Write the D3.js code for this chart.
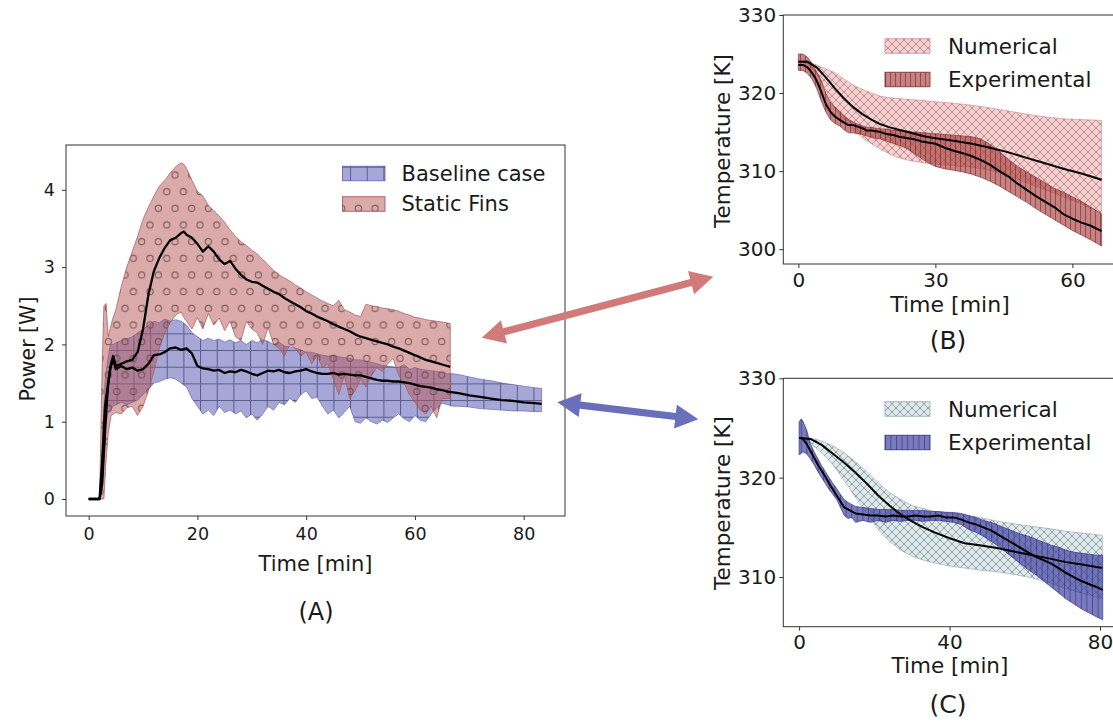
<!DOCTYPE html>
<html><head><meta charset="utf-8">
<script src="https://cdn.jsdelivr.net/npm/d3@7"></script>
<style>
body{margin:0;background:#fff;}
svg{display:block;}
text{font-family:"DejaVu Sans",sans-serif;fill:#1a1a1a;}
</style>
</head><body>
<svg id="c" width="1113" height="723"></svg>
<script>
// ---------- Panel A: power vs time ----------
const aTicksX = [0, 20, 40, 60, 80];
const aTicksY = [0, 1, 2, 3, 4];
const tBase = [0, 2.0, 2.5, 3.0, 3.5, 4.0, 4.5, 5, 6, 7, 8, 9, 10, 11, 12, 13, 14, 15, 16, 17, 18, 19, 20, 21, 22, 23, 24, 25, 26, 27, 28, 29, 30, 31, 32, 33, 34, 35, 36, 37, 38, 39, 40, 41, 42, 43, 44, 45, 46, 47, 48, 49, 50, 51, 52, 53, 54, 55, 56, 57, 58, 59, 60, 61, 62, 63, 64, 65, 66, 67, 68, 70, 72, 74, 76, 78, 80, 82, 83.3];
const lowBase = [0, 0, 0.3, 0.9, 1.1, 1.15, 1.2, 1.22, 1.25, 1.22, 1.25, 1.28, 1.35, 1.42, 1.5, 1.52, 1.55, 1.57, 1.55, 1.5, 1.45, 1.3, 1.2, 1.1, 1.15, 1.08, 1.2, 1.12, 1.15, 1.1, 1.14, 1.05, 1.1, 1.02, 1.1, 1.2, 1.15, 1.25, 1.22, 1.3, 1.25, 1.35, 1.4, 1.3, 1.32, 1.2, 1.1, 1.15, 1.05, 1.12, 1.2, 1.0, 0.98, 1.05, 1.0, 0.97, 1.02, 0.99, 1.05, 1.1, 1.04, 1.0, 1.08, 1.02, 1.0, 1.1, 1.18, 1.24, 1.22, 1.2, 1.2, 1.19, 1.17, 1.16, 1.15, 1.14, 1.14, 1.13, 1.13];
const meanBase = [0, 0, 0.5, 1.2, 1.45, 1.7, 1.8, 1.68, 1.72, 1.68, 1.7, 1.66, 1.68, 1.75, 1.86, 1.87, 1.9, 1.95, 1.96, 1.93, 1.95, 1.88, 1.72, 1.69, 1.68, 1.66, 1.67, 1.63, 1.65, 1.64, 1.67, 1.65, 1.62, 1.6, 1.63, 1.66, 1.65, 1.67, 1.64, 1.63, 1.65, 1.66, 1.68, 1.65, 1.63, 1.62, 1.62, 1.63, 1.61, 1.62, 1.61, 1.6, 1.6, 1.58, 1.56, 1.54, 1.53, 1.53, 1.52, 1.52, 1.51, 1.5, 1.48, 1.46, 1.45, 1.44, 1.42, 1.41, 1.39, 1.38, 1.37, 1.34, 1.32, 1.30, 1.28, 1.27, 1.25, 1.24, 1.23];
const upBase = [0, 0, 0.7, 1.5, 1.8, 2.0, 2.0, 2.02, 2.05, 2.07, 2.1, 2.15, 2.2, 2.25, 2.3, 2.28, 2.33, 2.3, 2.32, 2.3, 2.25, 2.15, 2.1, 2.05, 2.08, 2.05, 2.07, 2.03, 2.06, 2.02, 2.05, 2.0, 2.05, 2.02, 2.06, 2.04, 2.0, 2.03, 1.98, 1.97, 1.95, 1.93, 1.9, 1.9, 1.88, 1.86, 1.85, 1.86, 1.84, 1.83, 1.82, 1.8, 1.8, 1.78, 1.77, 1.75, 1.73, 1.72, 1.71, 1.7, 1.74, 1.68, 1.7, 1.68, 1.67, 1.66, 1.65, 1.64, 1.62, 1.62, 1.61, 1.58, 1.55, 1.53, 1.5, 1.48, 1.46, 1.44, 1.43];

const tFins = [0, 2.0, 2.5, 2.8, 3.2, 3.6, 4.1, 4.5, 5, 6, 7, 8, 9, 10, 11, 12, 13, 14, 15, 16, 17, 17.5, 18, 19, 20, 21, 22, 23, 24, 25, 26, 27, 28, 29, 30, 31, 32, 33, 34, 35, 36, 37, 38, 39, 40, 41, 42, 43, 44, 45, 46, 47, 48, 49, 50, 51, 52, 53, 54, 55, 56, 57, 58, 59, 60, 61, 62, 63, 64, 65, 66.5];
const lowFins = [0, 0, 0, 0, 0.5, 0.85, 1.07, 1.1, 1.12, 1.1, 1.18, 1.2, 1.08, 1.2, 1.4, 1.65, 1.95, 2.15, 2.28, 2.38, 2.42, 2.35, 2.3, 2.2, 2.35, 2.2, 2.4, 2.25, 2.34, 2.18, 2.3, 2.1, 2.05, 2.3, 2.2, 2.15, 2.0, 2.22, 2.0, 1.95, 1.85, 2.0, 1.95, 1.85, 1.9, 1.75, 1.85, 1.7, 1.75, 1.55, 1.35, 1.6, 1.3, 1.4, 1.55, 1.45, 1.6, 1.7, 1.65, 1.75, 1.82, 1.6, 1.5, 1.35, 1.25, 1.15, 1.1, 1.2, 1.05, 1.3, 1.3];
const meanFins = [0, 0, 0.2, 0.6, 1.1, 1.5, 1.75, 1.85, 1.72, 1.75, 1.78, 1.8, 1.9, 2.2, 2.65, 2.95, 3.12, 3.25, 3.35, 3.38, 3.44, 3.46, 3.42, 3.38, 3.3, 3.2, 3.27, 3.2, 3.1, 3.04, 3.08, 2.98, 2.9, 2.84, 2.81, 2.8, 2.76, 2.72, 2.68, 2.65, 2.6, 2.56, 2.52, 2.48, 2.43, 2.4, 2.36, 2.33, 2.3, 2.26, 2.23, 2.2, 2.17, 2.13, 2.1, 2.08, 2.06, 2.04, 2.02, 2.0, 1.97, 1.95, 1.92, 1.89, 1.86, 1.83, 1.8, 1.78, 1.76, 1.74, 1.71];
const upFins = [0, 0, 1.8, 2.5, 2.53, 2.1, 2.25, 2.35, 2.45, 2.75, 3.0, 3.2, 3.4, 3.62, 3.78, 3.92, 4.05, 4.12, 4.22, 4.3, 4.35, 4.33, 4.28, 4.12, 3.98, 3.92, 3.8, 3.73, 3.66, 3.58, 3.48, 3.4, 3.33, 3.28, 3.22, 3.17, 3.1, 3.03, 2.96, 2.9, 2.86, 2.82, 2.77, 2.73, 2.68, 2.64, 2.6, 2.56, 2.53, 2.5, 2.57, 2.45, 2.42, 2.38, 2.36, 2.52, 2.5, 2.49, 2.47, 2.46, 2.45, 2.43, 2.4, 2.38, 2.35, 2.34, 2.32, 2.31, 2.3, 2.29, 2.27];

// ---------- Panel B: temperature, static fins ----------
const bTicksX = [0, 30, 60];
const bTicksY = [300, 310, 320, 330];
const tBNum = [0, 2, 4, 6, 8, 10, 12, 14, 16, 18, 20, 22, 24, 26, 28, 30, 34, 38, 42, 46, 50, 54, 58, 62, 66.4];
const lowBNum = [324.0, 323.8, 322.5, 320.4, 318.0, 316.4, 315.3, 314.3, 313.5, 312.8, 312.2, 311.7, 311.4, 311.2, 311.0, 310.9, 310.7, 310.5, 310.1, 309.4, 308.5, 307.6, 306.7, 305.8, 304.6];
const meanBNum = [324.0, 324.0, 323.3, 322.0, 320.6, 319.3, 318.2, 317.3, 316.6, 316.0, 315.6, 315.3, 315.0, 314.7, 314.4, 314.2, 313.9, 313.5, 313.0, 312.4, 311.7, 311.0, 310.3, 309.7, 308.9];
const upBNum = [324.2, 324.1, 323.6, 323.1, 322.6, 321.8, 321.0, 320.5, 320.0, 319.6, 319.4, 319.3, 319.2, 319.1, 319.0, 318.9, 318.7, 318.45, 318.1, 317.7, 317.3, 316.95, 316.7, 316.6, 316.5];
const tBExp = [0, 1, 2, 3, 4, 5, 6, 7, 8, 9, 10, 11, 12, 13, 14, 15, 16, 17, 18, 19, 20, 21, 22, 23, 24, 25, 26, 27, 28, 29, 30, 32, 34, 36, 38, 40, 42, 44, 46, 48, 50, 52, 54, 56, 58, 60, 62, 64, 66.4];
const lowBExp = [322.9, 322.9, 322.5, 321.8, 320.6, 319.0, 317.6, 316.6, 316.1, 315.8, 315.3, 314.9, 314.9, 314.8, 314.7, 314.5, 314.3, 314.2, 314.1, 313.9, 313.7, 313.5, 313.3, 313.1, 312.8, 312.4, 312.0, 311.6, 311.2, 310.9, 310.6, 310.3, 310.1, 309.9, 309.6, 309.2, 308.7, 308.1, 307.4, 306.7, 306.0, 305.2, 304.5, 303.8, 303.1, 302.4, 301.8, 301.2, 300.4];
const meanBExp = [323.6, 323.6, 323.3, 322.6, 321.6, 320.2, 318.6, 317.6, 317.0, 316.6, 316.2, 315.9, 315.9, 315.7, 315.5, 315.2, 315.2, 315.1, 315.0, 314.8, 314.7, 314.6, 314.4, 314.3, 314.2, 314.1, 314.0, 313.8, 313.7, 313.6, 313.5, 313.0, 312.6, 312.3, 311.9, 311.4, 310.8, 310.0, 309.3, 308.4, 307.6, 306.8, 306.1, 305.4, 304.5, 303.9, 303.4, 303.0, 302.3];
const upBExp = [325.0, 325.0, 324.6, 323.8, 322.7, 321.6, 320.0, 318.9, 318.2, 317.7, 317.1, 316.6, 316.3, 316.0, 315.8, 315.6, 315.6, 315.5, 315.4, 315.4, 315.3, 315.2, 315.2, 315.1, 315.1, 315.0, 315.0, 314.9, 314.9, 314.8, 314.8, 314.7, 314.6, 314.5, 314.4, 314.1, 313.4, 312.5, 311.5, 310.6, 309.9, 309.2, 308.5, 307.8, 307.3, 306.7, 306.1, 305.4, 304.5];

// ---------- Panel C: temperature, baseline ----------
const cTicksX = [0, 40, 80];
const cTicksY = [310, 320, 330];
const tCNum = [0, 3, 6, 9, 12, 15, 18, 21, 24, 27, 30, 33, 36, 40, 44, 48, 53, 58, 62, 66, 71, 76, 80.6];
const lowCNum = [324.0, 323.5, 322.5, 321.3, 319.7, 318.0, 316.4, 314.8, 313.6, 312.7, 312.1, 311.7, 311.4, 311.1, 310.9, 310.7, 310.5, 310.2, 309.9, 309.5, 308.8, 308.3, 307.8];
const meanCNum = [324.0, 323.9, 323.3, 322.4, 321.5, 320.5, 319.4, 318.2, 317.2, 316.3, 315.6, 315.0, 314.5, 313.9, 313.4, 313.2, 312.9, 312.5, 312.2, 311.9, 311.5, 311.2, 310.9];
const upCNum = [324.0, 324.0, 323.7, 323.2, 322.5, 321.6, 320.6, 319.5, 318.5, 317.8, 317.2, 316.9, 316.6, 316.5, 316.2, 316.0, 315.6, 315.3, 315.1, 314.9, 314.6, 314.4, 314.2];
const tCExp = [0, 0.5, 1, 2, 3, 4, 5, 6, 7, 8, 9, 10, 11, 12, 13, 14, 15, 17, 19, 21, 23, 25, 27, 29, 31, 33, 35, 37, 39, 41, 43, 45, 47, 49, 51, 53, 55, 57, 59, 61, 63, 65, 67, 69, 71, 73, 75, 77, 79, 80.7];
const lowCExp = [322.3, 322.4, 322.6, 322.4, 321.9, 321.3, 320.6, 320.0, 319.4, 318.8, 318.3, 317.8, 317.0, 316.2, 315.9, 316.0, 315.5, 315.7, 315.5, 315.7, 315.5, 315.7, 315.6, 315.7, 315.7, 315.6, 315.7, 315.7, 315.6, 315.5, 315.3, 314.8, 314.5, 314.1, 313.6, 313.1, 312.5, 311.9, 311.3, 310.7, 310.2, 309.6, 309.0, 308.4, 307.8, 307.3, 306.8, 306.4, 306.0, 305.7];
const meanCExp = [324.0, 324.0, 323.9, 323.4, 322.7, 322.0, 321.3, 320.7, 320.1, 319.4, 318.8, 318.2, 317.6, 317.0, 316.8, 316.6, 316.4, 316.3, 316.2, 316.2, 316.1, 316.2, 316.1, 316.1, 316.2, 316.1, 316.1, 316.2, 316.0, 316.0, 315.8, 315.5, 315.3, 315.0, 314.7, 314.25, 313.8, 313.35, 312.9, 312.45, 312.0, 311.7, 311.35, 310.9, 310.4, 310.0, 309.6, 309.3, 309.0, 308.7];
const upCExp = [325.6, 325.9, 325.7, 324.8, 323.4, 322.6, 321.9, 321.2, 320.6, 320.0, 319.4, 318.9, 318.3, 317.8, 317.5, 317.3, 317.1, 317.0, 316.9, 316.8, 316.8, 316.8, 316.7, 316.7, 316.7, 316.7, 316.6, 316.6, 316.5, 316.5, 316.4, 316.2, 316.0, 315.7, 315.5, 315.2, 314.9, 314.6, 314.3, 314.1, 313.8, 313.5, 313.2, 313.0, 312.7, 312.5, 312.4, 312.3, 312.2, 312.2];

// ---------- drawing ----------
const svg = d3.select("#c");
svg.append("rect").attr("width", 1113).attr("height", 723).attr("fill", "#fff");
const defs = svg.append("defs");

function pattern(id, w, h, draw) {
  const p = defs.append("pattern").attr("id", id)
    .attr("patternUnits", "userSpaceOnUse").attr("width", w).attr("height", h);
  draw(p);
}
pattern("hPlus", 16.67, 16.67, p => p.append("path").attr("d", "M0.5,0V16.67M0,0.5H16.67")
  .attr("stroke", "#3c3c6a").attr("stroke-width", 1).attr("stroke-opacity", 0.7).attr("fill", "none"));
pattern("hCirc", 16.67, 33.33, p => {
  [[8.33, 8.33], [0, 25], [16.67, 25]].forEach(c => p.append("circle").attr("cx", c[0]).attr("cy", c[1]).attr("r", 3.1)
    .attr("fill", "none").attr("stroke", "#6a4646").attr("stroke-width", 1.1).attr("stroke-opacity", 0.8));
});
pattern("hX", 8, 8, p => p.append("path").attr("d", "M0,0L8,8M8,0L0,8M-1,7L1,9M7,-1L9,1M-1,1L1,-1M7,9L9,7")
  .attr("stroke", "#8a8a8a").attr("stroke-width", 0.8).attr("fill", "none"));
pattern("hVr", 5, 10, p => p.append("path").attr("d", "M0.5,0V10")
  .attr("stroke", "#4a1c1c").attr("stroke-width", 0.9).attr("stroke-opacity", 0.55));
pattern("hVb", 5.6, 10, p => p.append("path").attr("d", "M0.5,0V10")
  .attr("stroke", "#1e1e55").attr("stroke-width", 0.9).attr("stroke-opacity", 0.55));

function makePanel(o) {
  const x = d3.scaleLinear().domain(o.xd).range(o.xr);
  const y = d3.scaleLinear().domain(o.yd).range(o.yr);
  const g = svg.append("g");
  const cid = "clip" + o.id;
  defs.append("clipPath").attr("id", cid).append("rect")
    .attr("x", o.xr[0]).attr("y", o.yr[1]).attr("width", o.xr[1] - o.xr[0]).attr("height", o.yr[0] - o.yr[1]);
  const plot = g.append("g").attr("clip-path", `url(#${cid})`);
  return {x, y, g, plot};
}

function band(P, t, lo, hi, fill, op, hatch, edge) {
  const idx = d3.range(t.length);
  const ar = d3.area().x(i => P.x(t[i])).y0(i => P.y(lo[i])).y1(i => P.y(hi[i]));
  P.plot.append("path").attr("d", ar(idx)).attr("fill", fill).attr("fill-opacity", op)
    .attr("stroke", edge).attr("stroke-width", 0.9).attr("stroke-opacity", 0.8);
  P.plot.append("path").attr("d", ar(idx)).attr("fill", `url(#${hatch})`);
}
function meanLine(P, t, m, w) {
  const ln = d3.line().x(i => P.x(t[i])).y(i => P.y(m[i]));
  P.plot.append("path").attr("d", ln(d3.range(t.length))).attr("fill", "none")
    .attr("stroke", "#000").attr("stroke-width", w).attr("stroke-linejoin", "round");
}
function axes(P, o) {
  const ax = P.g.append("g").attr("transform", `translate(0,${o.yr[0]})`)
    .call(d3.axisBottom(P.x).tickValues(o.tx).tickSize(4).tickFormat(d3.format("d")));
  ax.select(".domain").remove();
  ax.selectAll("line").attr("stroke", "#333");
  ax.selectAll("text").attr("y", o.xlab).attr("dy", "0.35em").style("font-size", o.fs + "px").attr("fill", "#1a1a1a");
  const ay = P.g.append("g").attr("transform", `translate(${o.xr[0]},0)`)
    .call(d3.axisLeft(P.y).tickValues(o.ty).tickSize(4).tickPadding(o.ypad).tickFormat(d3.format("d")));
  ay.select(".domain").remove();
  ay.selectAll("line").attr("stroke", "#333");
  ay.selectAll("text").style("font-size", o.fs + "px").attr("fill", "#1a1a1a");
  P.g.append("rect").attr("x", o.xr[0]).attr("y", o.yr[1]).attr("width", o.xr[1] - o.xr[0]).attr("height", o.yr[0] - o.yr[1])
    .attr("fill", "none").attr("stroke", "#333").attr("stroke-width", 1);
}
function legend(items, x0, x1, fs) {
  items.forEach(it => {
    const h = 14.5;
    svg.append("rect").attr("x", x0).attr("y", it.cy - h / 2).attr("width", x1 - x0).attr("height", h)
      .attr("fill", it.fill).attr("fill-opacity", it.op).attr("stroke", it.edge).attr("stroke-width", 0.9);
    svg.append("rect").attr("x", x0).attr("y", it.cy - h / 2).attr("width", x1 - x0).attr("height", h)
      .attr("fill", `url(#${it.hatch})`);
    svg.append("text").attr("x", it.tx).attr("y", it.cy).attr("dy", "0.35em").style("font-size", fs + "px").text(it.label);
  });
}
function label(txt, x, y, fs, rot) {
  const t = svg.append("text").attr("text-anchor", "middle").attr("dy", "0.35em").style("font-size", fs + "px").text(txt);
  if (rot) t.attr("transform", `translate(${x},${y}) rotate(-90)`); else t.attr("x", x).attr("y", y);
}

// Panel A
const oA = {id: "A", xd: [-4.17, 87.6], xr: [66, 565], yd: [-0.22, 4.58], yr: [516, 145], tx: aTicksX, ty: aTicksY, fs: 17.5, xlab: 18, ypad: 7};
const PA = makePanel(oA);
band(PA, tBase, lowBase, upBase, "#5050b0", 0.5, "hPlus", "#6a6ab8");
band(PA, tFins, lowFins, upFins, "#b85858", 0.5, "hCirc", "#a85a5a");
meanLine(PA, tBase, meanBase, 2.3);
meanLine(PA, tFins, meanFins, 2.3);
axes(PA, oA);
legend([
  {label: "Baseline case", cy: 173.5, fill: "#5050b0", op: 0.5, hatch: "hPlus", edge: "#6a6ab8", tx: 401.5},
  {label: "Static Fins", cy: 204, fill: "#b85858", op: 0.5, hatch: "hCirc", edge: "#a85a5a", tx: 401.5}
], 342.5, 385, 21);
label("Time [min]", 315.5, 564, 21);
label("Power [W]", 28, 349, 20.5, true);
label("(A)", 316, 612, 24);

// Panel B
const oB = {id: "B", xd: [-3.3, 69.7], xr: [783.3, 1116.7], yd: [298.1, 330], yr: [264, 15], tx: bTicksX, ty: bTicksY, fs: 20, xlab: 15.5, ypad: 3};
const PB = makePanel(oB);
band(PB, tBNum, lowBNum, upBNum, "#ffbcbc", 0.75, "hX", "#d89a9a");
band(PB, tBExp, lowBExp, upBExp, "#b04444", 0.68, "hVr", "#8a3a3a");
meanLine(PB, tBNum, meanBNum, 2);
meanLine(PB, tBExp, meanBExp, 2);
axes(PB, oB);
legend([
  {label: "Numerical", cy: 46, fill: "#ffbcbc", op: 0.75, hatch: "hX", edge: "#d89a9a", tx: 948},
  {label: "Experimental", cy: 79.5, fill: "#b04444", op: 0.68, hatch: "hVr", edge: "#8a3a3a", tx: 948}
], 885, 930, 21.5);
label("Time [min]", 950, 304, 22);
label("Temperature [K]", 722, 141, 21.5, true);
label("(B)", 948, 340, 25);

// Panel C
const oC = {id: "C", xd: [-4.2, 85.7], xr: [783.3, 1121.5], yd: [305, 330], yr: [626.7, 378.3], tx: cTicksX, ty: cTicksY, fs: 20, xlab: 15.5, ypad: 3};
const PC = makePanel(oC);
band(PC, tCNum, lowCNum, upCNum, "#d5e7ea", 0.85, "hX", "#a3b6b8");
band(PC, tCExp, lowCExp, upCExp, "#4646a8", 0.72, "hVb", "#3a3a90");
meanLine(PC, tCNum, meanCNum, 2);
meanLine(PC, tCExp, meanCExp, 2);
axes(PC, oC);
legend([
  {label: "Numerical", cy: 409, fill: "#d5e7ea", op: 0.85, hatch: "hX", edge: "#a3b6b8", tx: 948},
  {label: "Experimental", cy: 442.5, fill: "#4646a8", op: 0.72, hatch: "hVb", edge: "#3a3a90", tx: 948}
], 885, 930, 21.5);
label("Time [min]", 950, 665, 21.5);
label("Temperature [K]", 722, 503, 21.5, true);
label("(C)", 948, 704, 25);

// connecting arrows
function arrow(x1, y1, x2, y2, color) {
  const dx = x2 - x1, dy = y2 - y1, L = Math.hypot(dx, dy);
  const ux = dx / L, uy = dy / L, nx = -uy, ny = ux;
  const hl = 23, hw = 12, sw = 3.6;
  const b1 = [x1 + ux * hl, y1 + uy * hl], b2 = [x2 - ux * hl, y2 - uy * hl];
  const pts = [[x1, y1], [b1[0] + nx * hw, b1[1] + ny * hw], [b1[0] + nx * sw, b1[1] + ny * sw],
    [b2[0] + nx * sw, b2[1] + ny * sw], [b2[0] + nx * hw, b2[1] + ny * hw], [x2, y2],
    [b2[0] - nx * hw, b2[1] - ny * hw], [b2[0] - nx * sw, b2[1] - ny * sw],
    [b1[0] - nx * sw, b1[1] - ny * sw], [b1[0] - nx * hw, b1[1] - ny * hw]];
  svg.append("path").attr("d", "M" + pts.map(p => p.join(",")).join("L") + "Z").attr("fill", color);
}
arrow(481.7, 337.7, 713.3, 276.7, "#d07b79");
arrow(557.3, 402.3, 698.3, 419.3, "#6a6fbc");
</script>
</body></html>
